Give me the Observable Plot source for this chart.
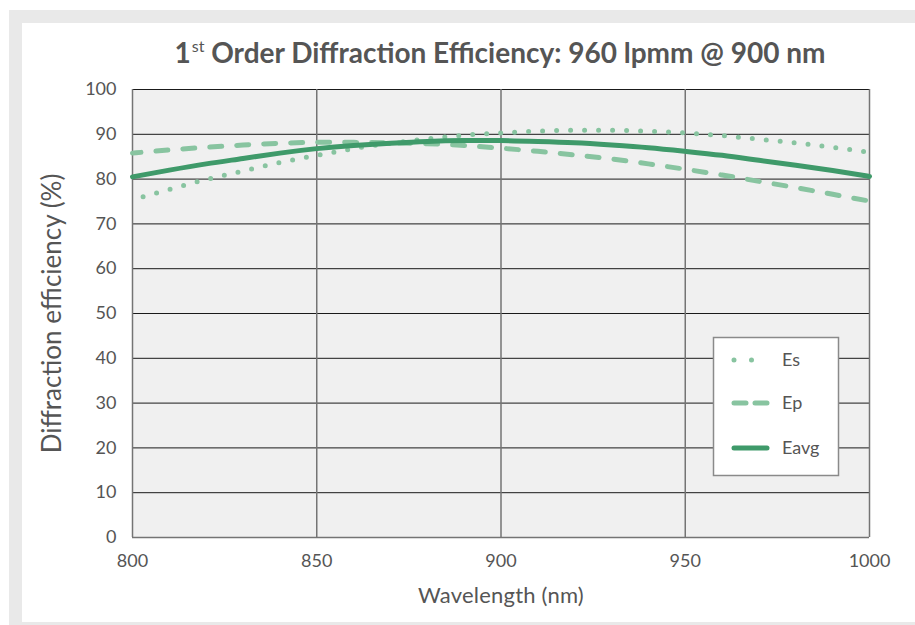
<!DOCTYPE html>
<html>
<head>
<meta charset="utf-8">
<script src="https://cdn.jsdelivr.net/npm/d3@7"></script>
<script src="https://cdn.jsdelivr.net/npm/@observablehq/plot@0.6"></script>
<style>
  html, body { margin: 0; padding: 0; background: #ffffff; }
  #page { position: relative; width: 915px; height: 625px; overflow: hidden; font-family: Lato, "Open Sans", sans-serif; }
  #border { position: absolute; left: 9px; top: 10px; width: 906px; height: 615px; background: #e9e9e9; }
  #card { position: absolute; left: 22px; top: 23px; width: 893px; height: 599px; background: #ffffff; }
  #title { position: absolute; left: 0; width: 1000px; top: 37px; text-align: center; font-size: 28px; font-weight: 700; color: #555555; line-height: 30px; white-space: nowrap; }
  #title sup { font-size: 16px; font-weight: 400; vertical-align: 0; position: relative; top: -11px; margin-left: 1px; }
  #chart { position: absolute; left: 0; top: 0; }
  #legend { position: absolute; left: 0; top: 0; }
  .xlab { letter-spacing: 0.2px; }
</style>
</head>
<body>
<div id="page">
  <div id="border"></div>
  <div id="card"></div>
  <div id="title">1<sup>st</sup> Order Diffraction Efficiency: 960 lpmm @ 900 nm</div>
  <div id="chart"></div>
  <div id="legend"></div>
</div>
<script>
const wavelength = [800, 810, 820, 830, 840, 850, 860, 870, 880, 890, 900, 910, 920, 930, 940, 950, 960, 970, 980, 990, 1000];
const es   = [75.4, 77.7, 79.9, 81.8, 83.7, 85.3, 86.8, 88.0, 89.0, 89.8, 90.3, 90.7, 90.9, 90.9, 90.7, 90.3, 89.7, 88.9, 88.1, 87.1, 86.0];
const ep   = [85.8, 86.5, 87.1, 87.6, 88.0, 88.2, 88.2, 88.1, 87.9, 87.5, 86.9, 86.2, 85.4, 84.5, 83.4, 82.2, 80.9, 79.5, 78.1, 76.6, 75.1];
const eavg = [80.5, 82.0, 83.4, 84.6, 85.8, 86.8, 87.5, 88.0, 88.4, 88.6, 88.6, 88.4, 88.1, 87.6, 87.0, 86.2, 85.3, 84.2, 83.1, 81.9, 80.6];
const xTicks = [800, 850, 900, 950, 1000];
const yTicks = [0, 10, 20, 30, 40, 50, 60, 70, 80, 90, 100];
const seriesNames = ["Es", "Ep", "Eavg"];
const xLabel = "Wavelength (nm)";
const yLabel = "Diffraction efficiency (%)";

const lightGreen = "#88c4a0";
const darkGreen = "#3f9a6a";

const rows = (vals) => wavelength.map((w, i) => ({w, v: vals[i]}));

const chart = Plot.plot({
  width: 915,
  height: 625,
  marginLeft: 132,
  marginRight: 46,
  marginTop: 89,
  marginBottom: 88,
  style: {background: "transparent", fontFamily: "Lato, 'Open Sans', sans-serif"},
  x: {domain: [800, 1000]},
  y: {domain: [0, 100]},
  marks: [
    Plot.frame({fill: "#f0f0f0", stroke: "none"}),
    Plot.ruleY(yTicks.filter(d => d > 0), {stroke: "#1a1a1a", strokeWidth: 1}),
    Plot.ruleX(xTicks, {stroke: "#747474", strokeWidth: 1.5}),
    Plot.ruleY([0], {stroke: "#747474", strokeWidth: 1.5}),
    Plot.axisX({ticks: xTicks, tickSize: 0, tickPadding: 17, fontSize: 18, color: "#555", tickFormat: d => String(d), label: null}),
    Plot.axisY({ticks: yTicks, tickSize: 0, tickPadding: 16, fontSize: 18, color: "#555", label: null}),
    Plot.line(rows(es), {x: "w", y: "v", stroke: lightGreen, strokeWidth: 5, strokeLinecap: "round", strokeDasharray: "0 14", strokeDashoffset: 3, curve: "natural"}),
    Plot.line(rows(ep), {x: "w", y: "v", stroke: lightGreen, strokeWidth: 5, strokeLinecap: "round", strokeDasharray: "12 15", strokeDashoffset: 3.5, curve: "natural"}),
    Plot.line(rows(eavg), {x: "w", y: "v", stroke: darkGreen, strokeWidth: 5, curve: "natural"}),
    Plot.text([xLabel], {frameAnchor: "bottom", textAnchor: "middle", dy: 65, fontSize: 22, fill: "#555", className: "xlab"}),
    Plot.text([yLabel], {frameAnchor: "left", textAnchor: "middle", rotate: -90, dx: -80, fontSize: 26, fill: "#555"})
  ]
});
document.getElementById("chart").appendChild(chart);

// Legend
const lg = d3.select("#legend").append("svg").attr("width", 915).attr("height", 625)
  .style("font-family", "Lato, 'Open Sans', sans-serif");
lg.append("rect").attr("x", 713.5).attr("y", 337.5).attr("width", 125).attr("height", 138)
  .attr("fill", "#ffffff").attr("stroke", "#8a8a8a").attr("stroke-width", 1.5);
const items = [
  {name: seriesNames[0], y: 360, color: lightGreen, dash: "0 17.5"},
  {name: seriesNames[1], y: 403, color: lightGreen, dash: "12 9"},
  {name: seriesNames[2], y: 448, color: darkGreen, dash: null}
];
items.forEach(it => {
  const l = lg.append("line").attr("x1", 734).attr("x2", 767).attr("y1", it.y).attr("y2", it.y)
    .attr("stroke", it.color).attr("stroke-width", 5).attr("stroke-linecap", "round");
  if (it.dash) l.attr("stroke-dasharray", it.dash);
  lg.append("text").attr("x", 782).attr("y", it.y).attr("dy", "0.35em")
    .attr("font-size", 18).attr("fill", "#555").text(it.name);
});
</script>
</body>
</html>
